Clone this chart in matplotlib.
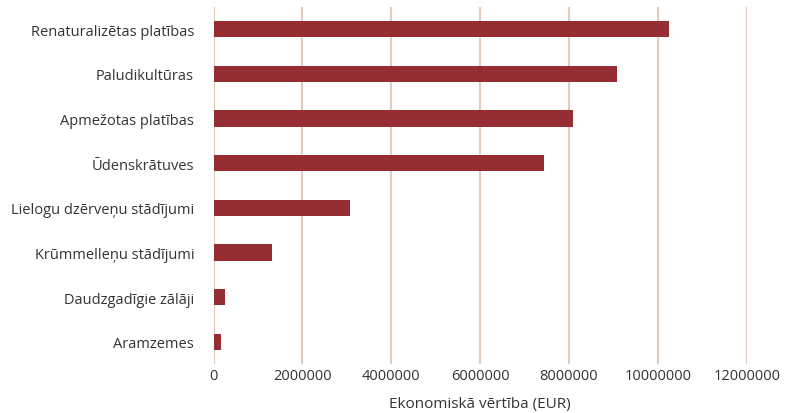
import matplotlib.pyplot as plt

# data
categories = ['Renaturalizētas platības', 'Paludikultūras', 'Apmežotas platības',
              'Ūdenskrātuves', 'Lielogu dzērveņu stādījumi', 'Krūmmelleņu stādījumi',
              'Daudzgadīgie zālāji', 'Aramzemes']
values = [10250000, 9080000, 8080000, 7430000, 3070000, 1320000, 265000, 170000]
xticks = [0, 2000000, 4000000, 6000000, 8000000, 10000000, 12000000]

plt.rcParams['font.family'] = ['Open Sans', 'DejaVu Sans']

fig = plt.figure(figsize=(7.88, 4.14), dpi=100)
ax = fig.add_axes([0.271, 0.118, 0.9476 - 0.271, 0.981 - 0.118])

ypos = list(range(len(categories)))
ax.barh(ypos, values, height=0.36, color='#952d32', zorder=3)
ax.set_yticks(ypos)
ax.set_yticklabels(categories)
ax.set_ylim(len(categories) - 0.5, -0.5)

ax.set_xlim(0, 12000000)
ax.set_xticks(xticks)
ax.set_xticklabels([str(x) for x in xticks])
ax.grid(axis='x', color='#e2cbbf', linewidth=1.5, zorder=0)
ax.tick_params(length=0, labelsize=10.5, colors='#333333')
ax.tick_params(axis='x', pad=3)
ax.tick_params(axis='y', pad=14)
for s in ax.spines.values():
    s.set_visible(False)

ax.set_xlabel('Ekonomiskā vērtība (EUR)', fontsize=11, color='#333333', labelpad=9)

fig.savefig('out.png', dpi=100)
